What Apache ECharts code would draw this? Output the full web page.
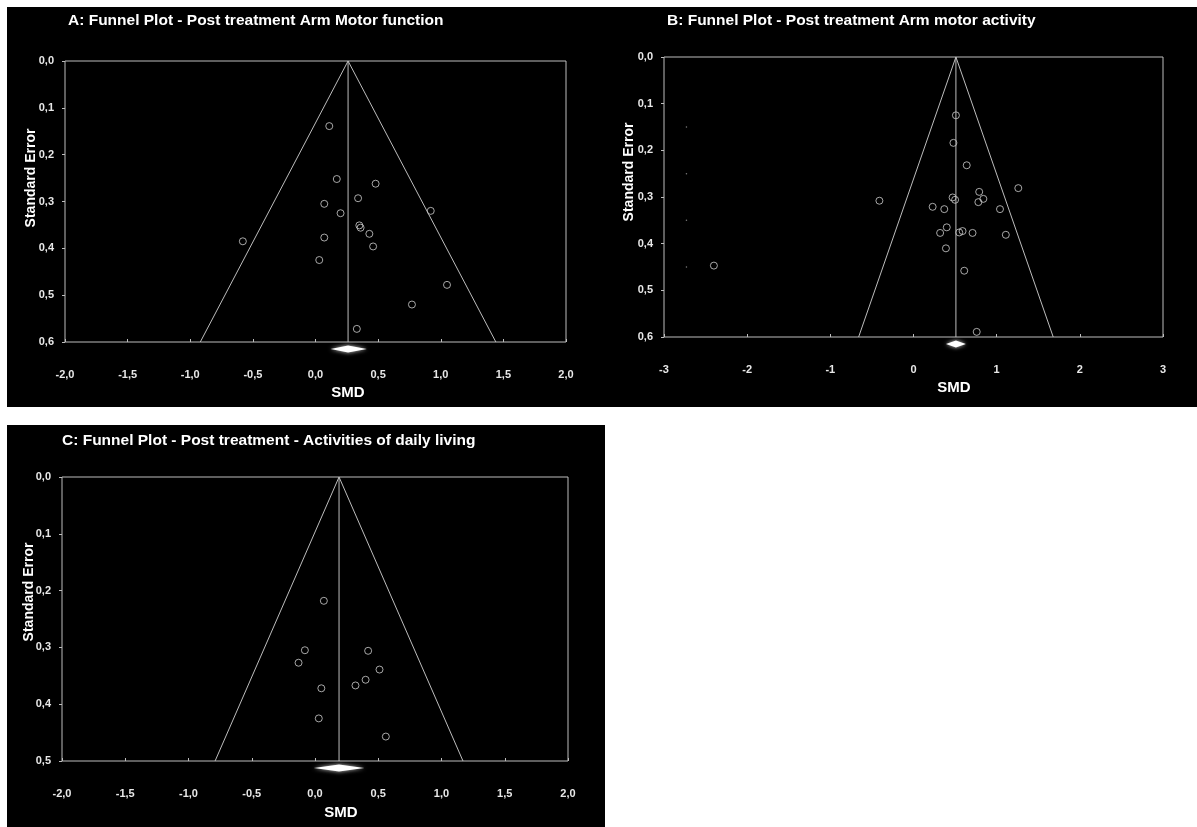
<!DOCTYPE html>
<html>
<head>
<meta charset="utf-8">
<title>Funnel plots</title>
<script src="https://cdn.jsdelivr.net/npm/echarts@6.0.0/dist/echarts.min.js"></script>
<style>
  html, body { margin: 0; padding: 0; background: #fff; }
  #main { width: 1197px; height: 827px; }
</style>
</head>
<body>
<div id="main"></div>
<script>
// A: Post treatment Arm Motor function
var smdA = [0.11, 0.17, 0.48, 0.34, 0.07, 0.92, 0.20, 0.35, 0.36, 0.43, 0.07, -0.58, 0.46, 0.03, 1.05, 0.77, 0.33];
var seA = [0.139, 0.252, 0.262, 0.293, 0.305, 0.320, 0.325, 0.351, 0.356, 0.369, 0.377, 0.385, 0.396, 0.425, 0.478, 0.520, 0.572];
var funnelA = [[-0.92, 0.6], [0.26, 0], [1.44, 0.6]];
var meanLineA = [[0.26, 0], [0.26, 0.6]];
var diamondA = [0.12, 0.26, 0.41];

// B: Post treatment Arm motor activity
var smdB = [0.51, 0.48, 0.64, 1.26, 0.79, -0.41, 0.47, 0.50, 0.84, 0.78, 0.23, 0.37, 1.04, 0.40, 0.32, 0.55, 0.59, 0.71, 1.11, 0.39, 0.61, 0.76, -2.40];
var seB = [0.125, 0.184, 0.232, 0.281, 0.289, 0.308, 0.301, 0.306, 0.304, 0.311, 0.321, 0.326, 0.326, 0.365, 0.377, 0.376, 0.373, 0.377, 0.381, 0.410, 0.458, 0.589, 0.447];
var funnelB = [[-0.66, 0.6], [0.51, 0], [1.68, 0.6]];
var meanLineB = [[0.51, 0], [0.51, 0.6]];
var diamondB = [0.39, 0.51, 0.63];
var specksB = [[-2.73, 0.15], [-2.73, 0.25], [-2.73, 0.35], [-2.73, 0.45]];

// C: Post treatment - Activities of daily living
var smdC = [0.07, -0.08, 0.42, -0.13, 0.51, 0.40, 0.32, 0.05, 0.03, 0.56];
var seC = [0.218, 0.305, 0.306, 0.327, 0.339, 0.357, 0.367, 0.372, 0.425, 0.457];
var funnelC = [[-0.79, 0.5], [0.19, 0], [1.17, 0.5]];
var meanLineC = [[0.19, 0], [0.19, 0.5]];
var diamondC = [-0.01, 0.19, 0.39];

var titles = [
  'A: Funnel Plot - Post treatment Arm Motor function',
  'B: Funnel Plot - Post treatment Arm motor activity',
  'C: Funnel Plot - Post treatment - Activities of daily living'
];

var FONT = '"Liberation Sans", Arial, sans-serif';
var LINE = '#bdbdbd';
var LABEL = '#e8e8e8';

function comma(v) {
  return v.toFixed(1).replace('.', ',');
}

function zip(xs, ys) {
  var out = [];
  for (var i = 0; i < xs.length; i++) {
    out.push([xs[i], ys[i]]);
  }
  return out;
}

function xAxisFor(idx, min, max, interval, fmt) {
  return {
    gridIndex: idx, type: 'value', min: min, max: max, interval: interval,
    position: 'bottom',
    splitLine: { show: false },
    axisLine: { show: false, onZero: false },
    axisTick: { show: true, inside: true, length: 3, lineStyle: { color: LINE } },
    axisLabel: { margin: 27, color: LABEL, fontSize: 11, fontWeight: 'bold', fontFamily: FONT, formatter: fmt }
  };
}

function yAxisFor(idx, max) {
  return {
    gridIndex: idx, type: 'value', inverse: true, min: 0, max: max, interval: 0.1,
    position: 'left',
    splitLine: { show: false },
    axisLine: { show: false, onZero: false },
    axisTick: { show: true, length: 3, lineStyle: { color: LINE } },
    axisLabel: { margin: 11, color: LABEL, fontSize: 11, fontWeight: 'bold', fontFamily: FONT, formatter: comma }
  };
}

function lineSeries(idx, data) {
  return {
    type: 'line', xAxisIndex: idx, yAxisIndex: idx, data: data,
    symbol: 'none', silent: true, animation: false,
    lineStyle: { color: LINE, width: 1 }
  };
}

function studySeries(idx, data) {
  return {
    type: 'scatter', xAxisIndex: idx, yAxisIndex: idx, data: data,
    symbol: 'circle', symbolSize: 7, animation: false,
    itemStyle: { color: 'rgba(0,0,0,0)', borderColor: '#cfcfcf', borderWidth: 1 }
  };
}

// summary diamond just under the x axis
function diamondSeries(idx, ci, seMax) {
  return {
    type: 'custom', xAxisIndex: idx, yAxisIndex: idx, clip: false, animation: false,
    data: [[ci[0], ci[1], ci[2], seMax]],
    encode: { x: [0, 1, 2], y: 3 },
    renderItem: function (params, api) {
      var lo = api.coord([api.value(0), api.value(3)]);
      var mid = api.coord([api.value(1), api.value(3)]);
      var hi = api.coord([api.value(2), api.value(3)]);
      var cy = lo[1] + 7;
      return {
        type: 'polygon',
        shape: { points: [[lo[0], cy], [mid[0], cy - 3.5], [hi[0], cy], [mid[0], cy + 3.5]] },
        style: { fill: '#ffffff', shadowBlur: 4, shadowColor: 'rgba(255,255,255,0.8)' }
      };
    }
  };
}

function axisText(x, y, text, vertical, size) {
  return {
    type: 'text', x: x, y: y, rotation: vertical ? Math.PI / 2 : 0, silent: true,
    style: {
      text: text, fill: '#ffffff', font: 'bold ' + size + 'px ' + FONT,
      align: 'center', verticalAlign: 'middle'
    }
  };
}

function titleFor(text, left, top) {
  return {
    text: text, left: left, top: top, padding: 0,
    textStyle: { color: '#ffffff', fontSize: 15.5, fontWeight: 'bold', fontFamily: FONT }
  };
}

var chart = echarts.init(document.getElementById('main'), null, { renderer: 'canvas' });

var option = {
  backgroundColor: '#ffffff',
  animation: false,
  title: [
    titleFor(titles[0], 68, 13),
    titleFor(titles[1], 667, 13),
    titleFor(titles[2], 62, 433)
  ],
  graphic: [
    { type: 'rect', z: -10, silent: true, shape: { x: 7, y: 7, width: 1190, height: 400 }, style: { fill: '#000' } },
    { type: 'rect', z: -10, silent: true, shape: { x: 7, y: 425, width: 598, height: 402 }, style: { fill: '#000' } },
    axisText(31, 178, 'Standard Error', true, 14),
    axisText(629, 172, 'Standard Error', true, 14),
    axisText(29, 592, 'Standard Error', true, 14),
    axisText(348, 393, 'SMD', false, 15),
    axisText(954, 388, 'SMD', false, 15),
    axisText(341, 813, 'SMD', false, 15)
  ],
  grid: [
    { left: 65, top: 61, width: 501, height: 281, show: true, borderColor: LINE, borderWidth: 1, backgroundColor: 'transparent', containLabel: false, outerBoundsMode: 'none' },
    { left: 664, top: 57, width: 499, height: 280, show: true, borderColor: LINE, borderWidth: 1, backgroundColor: 'transparent', containLabel: false, outerBoundsMode: 'none' },
    { left: 62, top: 477, width: 506, height: 284, show: true, borderColor: LINE, borderWidth: 1, backgroundColor: 'transparent', containLabel: false, outerBoundsMode: 'none' }
  ],
  xAxis: [
    xAxisFor(0, -2, 2, 0.5, comma),
    xAxisFor(1, -3, 3, 1, function (v) { return String(v); }),
    xAxisFor(2, -2, 2, 0.5, comma)
  ],
  yAxis: [
    yAxisFor(0, 0.6),
    yAxisFor(1, 0.6),
    yAxisFor(2, 0.5)
  ],
  series: [
    lineSeries(0, funnelA),
    lineSeries(0, meanLineA),
    studySeries(0, zip(smdA, seA)),
    diamondSeries(0, diamondA, 0.6),

    lineSeries(1, funnelB),
    lineSeries(1, meanLineB),
    studySeries(1, zip(smdB, seB)),
    diamondSeries(1, diamondB, 0.6),
    {
      type: 'scatter', xAxisIndex: 1, yAxisIndex: 1, data: specksB,
      symbol: 'circle', symbolSize: 1.5, silent: true,
      itemStyle: { color: '#9a9a9a' }
    },

    lineSeries(2, funnelC),
    lineSeries(2, meanLineC),
    studySeries(2, zip(smdC, seC)),
    diamondSeries(2, diamondC, 0.5)
  ]
};

chart.setOption(option);
</script>
</body>
</html>
